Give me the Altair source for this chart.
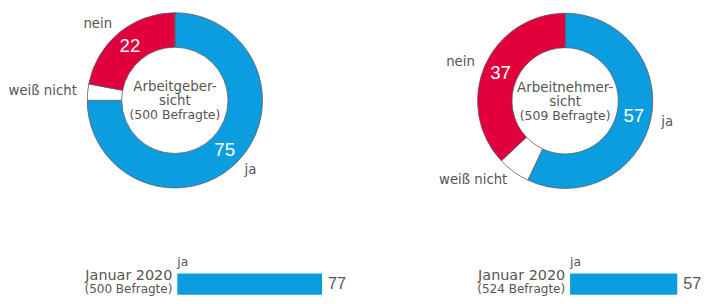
import altair as alt
import pandas as pd

# ---------------- data ----------------
categories = ["ja", "weiß nicht", "nein"]
employer_values = [75, 3, 22]
employee_values = [57, 6, 37]
employer_title = ["Arbeitgeber-", "sicht", "(500 Befragte)"]
employee_title = ["Arbeitnehmer-", "sicht", "(509 Befragte)"]

bar_series = "ja"
bar_period = "Januar 2020"
employer_bar_value = 77
employee_bar_value = 57
employer_bar_n = "(500 Befragte)"
employee_bar_n = "(524 Befragte)"

# ---------------- style ----------------
BLUE = "#0b9ddf"
RED = "#e1003b"
WHITE = "#ffffff"
TEXT = "#555555"
EDGE = "#5a5a5a"
FONT = "DejaVu Sans"
NUMFONT = "Liberation Sans Narrow, Liberation Sans, sans-serif"


def donut(values, title, cx, cy, width, height):
    df = pd.DataFrame({"category": categories, "value": values,
                       "order": list(range(len(categories)))})
    base = alt.Chart(df).encode(
        theta=alt.Theta("value:Q", stack=True),
        order=alt.Order("order:Q"),
        x=alt.value(cx),
        y=alt.value(cy),
    )
    ring = base.mark_arc(innerRadius=54, outerRadius=89, stroke=EDGE,
                         strokeWidth=0.8).encode(
        color=alt.Color("category:N",
                        scale=alt.Scale(domain=categories, range=[BLUE, WHITE, RED]),
                        legend=None)
    )
    lab_r = base.transform_calculate(
        lab="datum.category == 'ja' ? datum.category : ''"
    ).mark_text(radius=100, align="left", baseline="middle", font=FONT,
                fontSize=13.5, color=TEXT).encode(text="lab:N")
    lab_l = base.transform_calculate(
        lab="datum.category != 'ja' ? datum.category : ''"
    ).mark_text(radius=100, align="right", baseline="middle", font=FONT,
                fontSize=13.5, color=TEXT).encode(text="lab:N")
    vals = base.transform_calculate(
        v="datum.value >= 10 ? '' + datum.value : ''"
    ).mark_text(radius=71.5, align="center", baseline="middle", font=NUMFONT,
                fontSize=19, color=WHITE).encode(text="v:N")

    titles = []
    specs = [(-13, 13.6), (1, 13.6), (15.2, 12.6)]
    for line, (dy, fs) in zip(title, specs):
        titles.append(
            alt.Chart(pd.DataFrame({"t": [line]})).mark_text(
                dy=dy, align="center", baseline="middle", font=FONT,
                fontSize=fs, color=TEXT
            ).encode(text="t:N", x=alt.value(cx), y=alt.value(cy))
        )
    return alt.layer(ring, lab_r, lab_l, vals, *titles).properties(
        width=width, height=height)


def bar_view(value, n_label, x0, width, height):
    df = pd.DataFrame({"row": ["bar"], "value": [value], "period": [bar_period],
                       "n": [n_label], "series": [bar_series]})
    xs = alt.Scale(domain=[0, 100], range=[x0, x0 + 191])
    ys = alt.Scale(domain=["head", "bar"], paddingInner=0, paddingOuter=0)
    base = alt.Chart(df)
    bar = base.mark_bar(color=BLUE).encode(
        x=alt.X("value:Q", scale=xs, axis=None),
        y=alt.Y("row:N", scale=ys, axis=None),
    )
    val = base.mark_text(align="left", baseline="middle", dx=6, font=NUMFONT,
                         fontSize=16.5, color=TEXT).encode(
        x=alt.X("value:Q", scale=xs), y=alt.Y("row:N", scale=ys), text="value:Q")
    period = base.mark_text(align="right", baseline="middle", dx=-5, dy=-8.5,
                            font=FONT, fontSize=14.6, color=TEXT).encode(
        x=alt.datum(0), y=alt.Y("row:N", scale=ys), text="period:N")
    nlab = base.mark_text(align="right", baseline="middle", dx=-5, dy=5,
                          font=FONT, fontSize=12.2, color=TEXT).encode(
        x=alt.datum(0), y=alt.Y("row:N", scale=ys), text="n:N")
    head = base.transform_calculate(hrow="'head'").mark_text(
        align="left", baseline="middle", dy=-1, font=FONT, fontSize=12.5,
        color=TEXT).encode(
        x=alt.datum(0), y=alt.Y("hrow:N", scale=ys), text="series:N")
    return alt.layer(bar, val, period, nlab, head).properties(
        width=width, height=height)


left = alt.vconcat(
    donut(employer_values, employer_title, 168.5, 90.5, 340, 200),
    bar_view(employer_bar_value, employer_bar_n, 171, 340, 43),
    spacing=45,
)
right = alt.vconcat(
    donut(employee_values, employee_title, 212, 91, 344, 200),
    bar_view(employee_bar_value, employee_bar_n, 217, 344, 43),
    spacing=45,
)

chart = alt.hconcat(left, right, spacing=10).properties(
    padding=0
).configure(font=FONT).configure_view(strokeWidth=0, stroke="transparent")

chart.save("out.html", embed_options={"renderer": "svg", "actions": False})
